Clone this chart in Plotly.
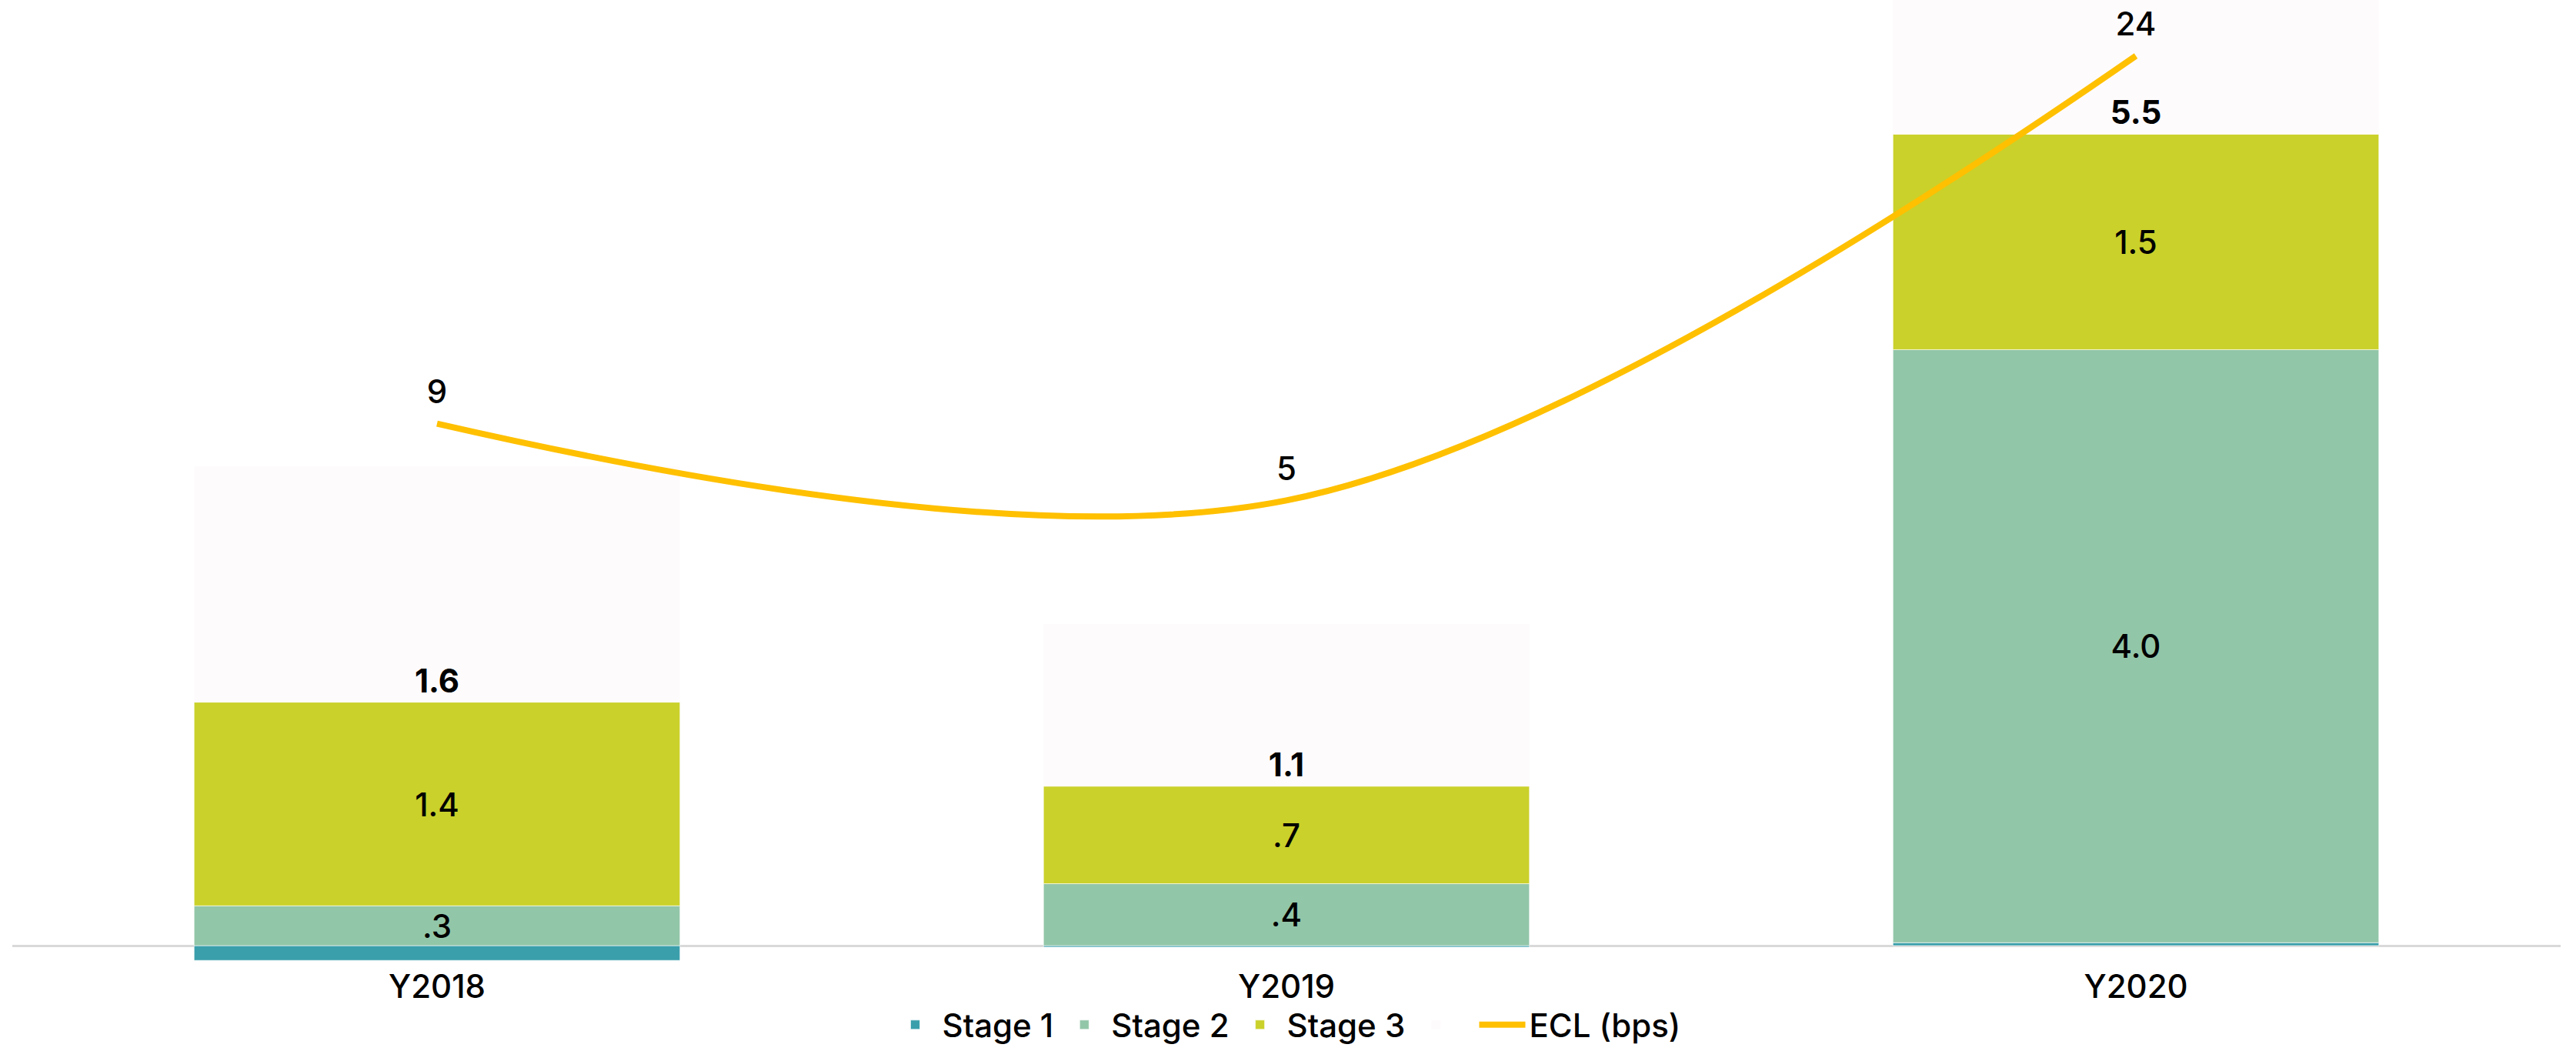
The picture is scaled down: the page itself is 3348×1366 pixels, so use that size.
import plotly.graph_objects as go

categories = ["Y2018", "Y2019", "Y2020"]
stage1 = [-0.1, -0.01, 0.02]
stage2 = [0.27, 0.42, 4.02]
stage3 = [1.38, 0.66, 1.46]
totals = [1.6, 1.1, 5.5]
stage2_labels = [".3", ".4", "4.0"]
stage3_labels = ["1.4", ".7", "1.5"]
total_labels = ["1.6", "1.1", "5.5"]
ecl_bps = [8.6, 5.3, 24.4]
ecl_labels = ["9", "5", "24"]

FONT = "Inter"
C1, C2, C3, CP, CL = "#3A9FAB", "#92C6A8", "#CAD12A", "#FEFBFD", "#FFC000"
edge = dict(color="rgba(255,255,255,0.6)", width=1)
lab = dict(color="black", size=42, family=FONT, weight=500)

fig = go.Figure()
fig.add_trace(go.Bar(x=categories, y=stage1, name="Stage 1", marker=dict(color=C1, line=edge)))
fig.add_trace(go.Bar(x=categories, y=stage2, name="Stage 2", marker=dict(color=C2, line=edge),
                     text=stage2_labels, textposition="inside", insidetextanchor="middle",
                     textangle=0, constraintext="none", textfont=lab))
fig.add_trace(go.Bar(x=categories, y=stage3, name="Stage 3", marker=dict(color=C3, line=edge),
                     text=stage3_labels, textposition="inside", insidetextanchor="middle",
                     textangle=0, constraintext="none", textfont=lab))
fig.add_trace(go.Bar(x=categories, y=totals, name=" ", marker=dict(color=CP, line=dict(width=0)),
                     text=total_labels, textposition="inside", insidetextanchor="start",
                     textangle=0, constraintext="none",
                     textfont=dict(color="black", size=42, family=FONT, weight=700)))
fig.add_trace(go.Scatter(x=categories, y=ecl_bps, name="ECL (bps)", yaxis="y2",
                         mode="lines+markers+text", line=dict(color=CL, width=8, shape="spline"),
                         marker=dict(size=24, color="rgba(0,0,0,0)"),
                         text=ecl_labels, textposition="top center",
                         textfont=lab))

fig.update_layout(
    width=3348, height=1366,
    margin=dict(l=16, r=20, t=0, b=104, pad=0),
    barmode="relative", bargap=0.428,
    plot_bgcolor="white", paper_bgcolor="white",
    font=dict(family=FONT, size=42, color="black", weight=500),
    showlegend=True,
    legend=dict(orientation="h", x=0.5, xanchor="center", y=-0.0626, yanchor="middle",
                font=dict(size=42, family=FONT, color="black", weight=500), traceorder="normal",
                itemwidth=60, bgcolor="rgba(0,0,0,0)"),
    xaxis=dict(showgrid=False, showline=False, ticks="",
               tickfont=dict(size=42, family=FONT, weight=500)),
    yaxis=dict(range=[-0.13, 6.41], showgrid=False, showticklabels=False, zeroline=True,
               zerolinecolor="#D9D9D9", zerolinewidth=3, layer="above traces"),
    yaxis2=dict(range=[-14.65, 26.8], overlaying="y", side="right", showgrid=False,
                showticklabels=False, zeroline=False),
)

fig.write_html("out.html", config={"displayModeBar": False},
               post_script="document.body.style.margin='0px';")
